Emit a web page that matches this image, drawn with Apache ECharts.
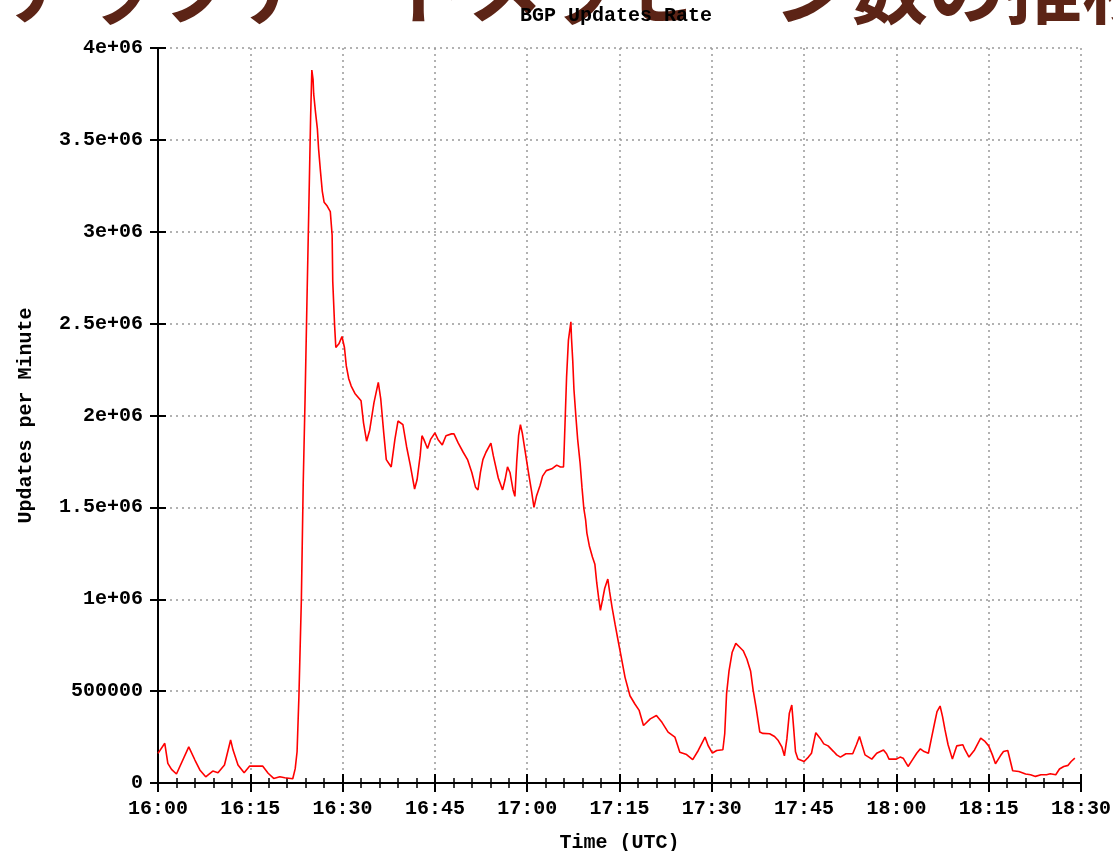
<!DOCTYPE html>
<html>
<head>
<meta charset="utf-8">
<script src="https://cdn.jsdelivr.net/npm/echarts@6/dist/echarts.min.js"></script>
<style>
  html, body { margin: 0; padding: 0; background: #fff; }
  #chart { width: 1113px; height: 851px; }
</style>
</head>
<body>
<div id="chart"></div>
<script>
// Minutes since 16:00 UTC
const minutes = [
  0, 1.1, 1.6, 2.2, 3.0, 5.0, 6.0, 6.8, 7.75, 8.9, 9.75, 10.8, 11.8, 12.2, 13.0, 14.0, 14.9, 17.0, 17.9, 18.8,
  19.8, 20.6, 21.9, 22.3, 22.6, 22.9, 23.3, 23.6, 23.9, 24.2, 24.5, 24.8, 25.0, 25.2, 25.3, 25.6, 25.9, 26.1, 26.4, 26.7,
  27.0, 27.5, 28.0, 28.3, 28.4, 28.7, 28.9, 29.4, 29.9, 30.3, 30.6, 31.0, 31.4, 32.0, 33.0, 33.4, 33.9, 34.4, 35.1, 35.8,
  36.2, 36.7, 37.1, 37.9, 38.5, 39.0, 39.8, 40.4, 41.0, 41.7, 42.1, 42.6, 42.9, 43.2, 43.8, 44.3, 45.0, 45.5, 46.2, 46.8,
  47.7, 48.1, 48.8, 49.6, 50.3, 51.0, 51.6, 52.0, 52.4, 52.8, 53.3, 54.1, 54.5, 55.3, 56.0, 56.4, 56.8, 57.2, 57.7, 58.0,
  58.3, 58.6, 58.9, 59.2, 59.6, 60.2, 60.7, 61.1, 61.5, 62.1, 62.5, 63.1, 64.0, 64.8, 65.4, 65.9, 66.0, 66.2, 66.4, 66.7,
  67.1, 67.2, 67.4, 67.6, 67.9, 68.2, 68.6, 68.9, 69.2, 69.5, 69.7, 70.1, 70.6, 71.0, 71.3, 71.6, 71.9, 72.2, 72.6, 73.1,
  73.4, 73.8, 74.3, 74.8, 75.4, 75.9, 76.7, 77.5, 78.2, 78.9, 80.0, 81.0, 81.9, 82.9, 84.0, 84.8, 85.9, 86.9, 87.8, 88.9,
  89.4, 90.1, 90.8, 91.8, 92.1, 92.4, 92.8, 93.3, 93.9, 94.5, 95.1, 95.7, 96.3, 96.7, 97.2, 97.8, 98.3, 99.4, 100.2, 100.8,
  101.4, 101.8, 102.2, 102.6, 103.0, 103.3, 103.6, 104.0, 105.0, 105.7, 106.2, 106.9, 107.6, 108.2, 108.9, 109.8, 110.3, 110.9, 111.8, 112.9,
  113.5, 114.0, 114.4, 114.9, 116.0, 116.8, 117.9, 118.4, 118.8, 120.0, 120.6, 121.1, 121.9, 122.6, 123.3, 123.9, 124.5, 125.2, 125.7, 126.2,
  126.6, 127.1, 127.5, 127.9, 128.4, 129.1, 129.8, 130.8, 131.1, 131.8, 132.7, 133.7, 134.4, 135.0, 135.6, 136.1, 136.9, 137.4, 138.1, 138.9,
  139.9, 141.0, 141.8, 142.6, 143.5, 144.4, 145.0, 145.9, 146.5, 147.2, 147.9, 148.4, 149.0
];

// Updates per minute
const updates = [
  161000, 216000, 107000, 74000, 49000, 197000, 125000, 71000, 34000, 65000, 56000, 98000, 234000, 179000, 98000, 56000, 92000, 92000, 53000, 25000,
  34000, 29000, 23000, 78000, 170000, 470000, 1000000, 1630000, 2090000, 2610000, 3110000, 3620000, 3880000, 3830000, 3750000, 3650000, 3560000, 3450000, 3330000, 3220000,
  3160000, 3140000, 3110000, 2980000, 2730000, 2490000, 2370000, 2390000, 2430000, 2370000, 2270000, 2200000, 2160000, 2120000, 2080000, 1960000, 1860000, 1920000, 2070000, 2180000,
  2090000, 1900000, 1760000, 1720000, 1870000, 1970000, 1950000, 1830000, 1730000, 1600000, 1650000, 1780000, 1890000, 1870000, 1820000, 1870000, 1905000, 1870000, 1840000, 1890000,
  1900000, 1900000, 1850000, 1800000, 1760000, 1690000, 1610000, 1595000, 1690000, 1760000, 1800000, 1850000, 1780000, 1660000, 1595000, 1650000, 1720000, 1690000, 1595000, 1560000,
  1750000, 1890000, 1950000, 1905000, 1820000, 1690000, 1590000, 1500000, 1560000, 1620000, 1670000, 1700000, 1710000, 1730000, 1720000, 1720000, 1810000, 2010000, 2210000, 2410000,
  2510000, 2420000, 2300000, 2140000, 2000000, 1870000, 1740000, 1610000, 1495000, 1430000, 1360000, 1290000, 1230000, 1190000, 1090000, 1010000, 940000, 990000, 1060000, 1110000,
  1040000, 955000, 860000, 770000, 665000, 575000, 475000, 430000, 395000, 313000, 349000, 367000, 330000, 277000, 250000, 168000, 155000, 127000, 177000, 250000,
  204000, 163000, 177000, 181000, 268000, 485000, 610000, 710000, 760000, 740000, 720000, 675000, 610000, 510000, 410000, 277000, 270000, 268000, 253000, 231000,
  195000, 148000, 240000, 380000, 424000, 300000, 170000, 130000, 117000, 141000, 162000, 274000, 244000, 213000, 202000, 171000, 153000, 141000, 159000, 159000,
  208000, 253000, 208000, 153000, 130000, 162000, 180000, 159000, 130000, 130000, 141000, 135000, 90000, 126000, 162000, 186000, 171000, 162000, 244000, 325000,
  388000, 419000, 361000, 289000, 208000, 130000, 202000, 208000, 184000, 141000, 180000, 244000, 226000, 202000, 153000, 105000, 148000, 171000, 177000, 67000,
  63000, 49000, 45000, 36000, 45000, 45000, 50000, 45000, 76000, 90000, 96000, 117000, 135000
];

const xTickLabels = ['16:00', '16:15', '16:30', '16:45', '17:00', '17:15', '17:30', '17:45', '18:00', '18:15', '18:30'];
const yTickLabels = ['0', '500000', '1e+06', '1.5e+06', '2e+06', '2.5e+06', '3e+06', '3.5e+06', '4e+06'];

const slideTitle = 'アップデートメッセージ数の推移';
const chartTitle = 'BGP Updates Rate';
const xName = 'Time (UTC)';
const yName = 'Updates per Minute';

const mono = '"Liberation Mono", "DejaVu Sans Mono", monospace';
const labelStyle = { fontFamily: mono, fontWeight: 'bold', fontSize: 20, color: '#000' };

const seriesData = minutes.map((m, i) => [m, updates[i]]);

const chart = echarts.init(document.getElementById('chart'), null, { renderer: 'canvas' });

const tickCommon = {
  axisLine: { show: true, lineStyle: { color: '#000', width: 2 } },
  axisTick: { show: true, inside: true, length: 9, lineStyle: { color: '#000', width: 2 } }
};

chart.setOption({
  animation: false,
  backgroundColor: '#fff',
  graphic: [{
    type: 'text',
    left: 4,
    top: -50,
    z: 0,
    style: {
      text: slideTitle,
      font: 'bold 77px "Noto Sans CJK JP"',
      fill: '#5c2416'
    }
  }, {
    type: 'text',
    left: 520,
    top: 6,
    z: 10,
    style: {
      text: chartTitle,
      font: 'bold 20px "Liberation Mono", "DejaVu Sans Mono", monospace',
      fill: '#000'
    }
  }],
  grid: { left: 158, right: 32, top: 48, bottom: 68, containLabel: false, outerBoundsMode: 'none' },
  xAxis: [{
    type: 'value', min: 0, max: 150, interval: 15, position: 'bottom',
    ...tickCommon,
    minorTick: { show: true, splitNumber: 5, length: 5, lineStyle: { color: '#000', width: 1.5 } },
    axisLabel: { ...labelStyle, margin: 16, formatter: v => xTickLabels[Math.round(v / 15)] },
    splitLine: { show: true, lineStyle: { color: '#999', type: [2, 4], width: 1.5 } },
    name: xName, nameLocation: 'middle', nameGap: 50,
    nameTextStyle: labelStyle
  }, {
    type: 'value', min: 0, max: 150, interval: 15, position: 'top',
    ...tickCommon,
    minorTick: { show: true, splitNumber: 5, length: 5, lineStyle: { color: '#000', width: 1.5 } },
    axisLabel: { show: false },
    splitLine: { show: false }
  }],
  yAxis: [{
    type: 'value', min: 0, max: 4000000, interval: 500000, position: 'left',
    ...tickCommon,
    axisTick: { show: true, inside: true, length: 8, lineStyle: { color: '#000', width: 2 } },
    axisLabel: { ...labelStyle, margin: 15, formatter: v => yTickLabels[Math.round(v / 500000)] },
    splitLine: { show: true, lineStyle: { color: '#999', type: [2, 4], width: 1.5 } },
    name: yName, nameLocation: 'middle', nameGap: 122, nameRotate: 90,
    nameTextStyle: labelStyle
  }, {
    type: 'value', min: 0, max: 4000000, interval: 500000, position: 'right',
    ...tickCommon,
    axisTick: { show: true, inside: true, length: 8, lineStyle: { color: '#000', width: 2 } },
    axisLabel: { show: false },
    splitLine: { show: false }
  }],
  series: [{
    type: 'line',
    xAxisIndex: 0,
    yAxisIndex: 0,
    data: seriesData,
    showSymbol: false,
    symbol: 'none',
    lineStyle: { color: '#ff0000', width: 1.6 },
    z: 5
  }]
});
</script>
</body>
</html>
